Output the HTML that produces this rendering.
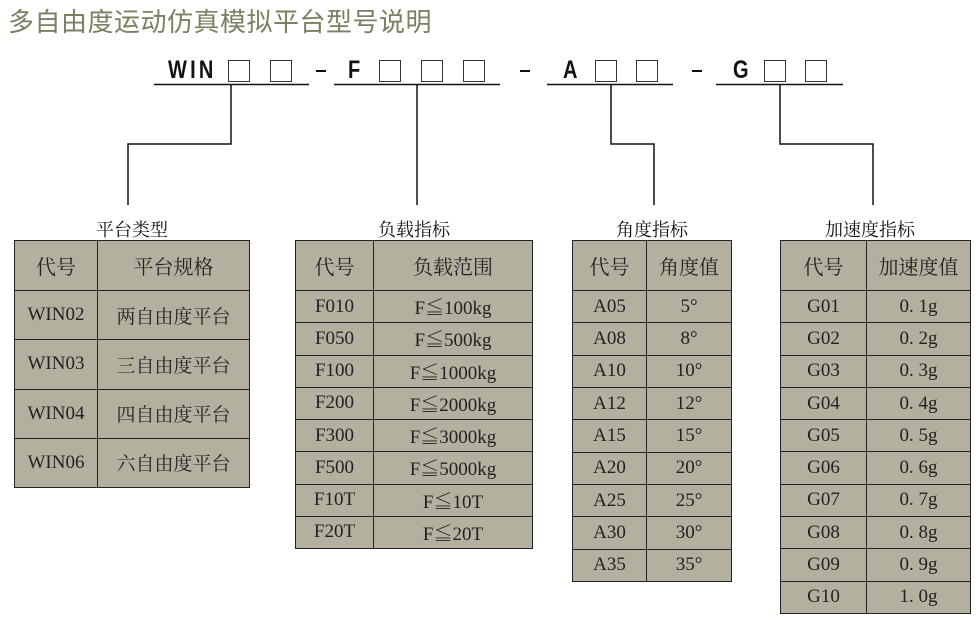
<!DOCTYPE html>
<html><head><meta charset="utf-8"><style>
body{margin:0;width:979px;height:620px;background:#fff;position:relative;overflow:hidden;font-family:"Liberation Serif","Noto Serif CJK SC",serif;}
.t{position:absolute;white-space:nowrap;}
.title{left:8px;top:2px;font-family:"Liberation Sans","Noto Sans CJK SC",sans-serif;font-size:26px;color:#7e7e62;letter-spacing:0.5px;}
.code{font-family:"Liberation Sans","Noto Sans CJK SC",sans-serif;font-size:25px;font-weight:bold;color:#111;transform:scaleX(0.8);transform-origin:left top;top:56px;}
.dash{position:absolute;width:10px;height:2px;background:#111;top:70px;}
.box{position:absolute;width:20px;height:20px;border:1.5px solid #333;top:60px;}
.lbl{font-size:18px;color:#111;top:216px;transform:translateX(-50%);}
table{position:absolute;border-collapse:collapse;background:#b3b09f;}
td{border:1.5px solid #222;text-align:center;padding:0;font-size:19px;color:#222;}
tr.h td{font-size:20px;}
</style></head><body>
<div class="t title">多自由度运动仿真模拟平台型号说明</div>

<div class="t code" style="left:168px;letter-spacing:4px">WIN</div>
<div class="box" style="left:228px"></div><div class="box" style="left:270px"></div>
<div class="dash" style="left:316px"></div>
<div class="t code" style="left:348px">F</div>
<div class="box" style="left:379px"></div><div class="box" style="left:421px"></div><div class="box" style="left:463px"></div>
<div class="dash" style="left:520px"></div>
<div class="t code" style="left:563px">A</div>
<div class="box" style="left:595px"></div><div class="box" style="left:636px"></div>
<div class="dash" style="left:692px"></div>
<div class="t code" style="left:733px">G</div>
<div class="box" style="left:764px"></div><div class="box" style="left:805px"></div>

<svg style="position:absolute;left:0;top:0" width="979" height="620">
<g stroke="#111" stroke-width="1.5" fill="none">
<line x1="154" y1="84.5" x2="309" y2="84.5"/>
<line x1="334" y1="84.5" x2="500" y2="84.5"/>
<line x1="547" y1="84.5" x2="673" y2="84.5"/>
<line x1="716" y1="84.5" x2="843" y2="84.5"/>
<polyline points="231,84 231,144 128,144 128,205"/>
<polyline points="417,84 417,205"/>
<polyline points="611,84 611,144 654,144 654,205"/>
<polyline points="780,84 780,144 873,144 873,205"/>
</g></svg>

<div class="t lbl" style="left:132px">平台类型</div>
<div class="t lbl" style="left:414px">负载指标</div>
<div class="t lbl" style="left:652px">角度指标</div>
<div class="t lbl" style="left:870px">加速度指标</div>

<table style="left:14px;top:240px;width:236px;height:248px">
<colgroup><col style="width:83px"><col></colgroup>
<tr class="h" style="height:50px"><td>代号</td><td>平台规格</td></tr>
<tr><td>WIN02</td><td>两自由度平台</td></tr>
<tr><td>WIN03</td><td>三自由度平台</td></tr>
<tr><td>WIN04</td><td>四自由度平台</td></tr>
<tr><td>WIN06</td><td>六自由度平台</td></tr>
</table>

<table style="left:295px;top:240px;width:238px;height:309px">
<colgroup><col style="width:78px"><col></colgroup>
<tr class="h" style="height:50px"><td>代号</td><td>负载范围</td></tr>
<tr><td>F010</td><td>F≦100kg</td></tr>
<tr><td>F050</td><td>F≦500kg</td></tr>
<tr><td>F100</td><td>F≦1000kg</td></tr>
<tr><td>F200</td><td>F≦2000kg</td></tr>
<tr><td>F300</td><td>F≦3000kg</td></tr>
<tr><td>F500</td><td>F≦5000kg</td></tr>
<tr><td>F10T</td><td>F≦10T</td></tr>
<tr><td>F20T</td><td>F≦20T</td></tr>
</table>

<table style="left:572px;top:240px;width:160px;height:342px">
<colgroup><col style="width:74px"><col></colgroup>
<tr class="h" style="height:50px"><td>代号</td><td>角度值</td></tr>
<tr><td>A05</td><td>5°</td></tr>
<tr><td>A08</td><td>8°</td></tr>
<tr><td>A10</td><td>10°</td></tr>
<tr><td>A12</td><td>12°</td></tr>
<tr><td>A15</td><td>15°</td></tr>
<tr><td>A20</td><td>20°</td></tr>
<tr><td>A25</td><td>25°</td></tr>
<tr><td>A30</td><td>30°</td></tr>
<tr><td>A35</td><td>35°</td></tr>
</table>

<table style="left:780px;top:240px;width:191px;height:374px">
<colgroup><col style="width:86px"><col></colgroup>
<tr class="h" style="height:50px"><td>代号</td><td>加速度值</td></tr>
<tr><td>G01</td><td>0. 1g</td></tr>
<tr><td>G02</td><td>0. 2g</td></tr>
<tr><td>G03</td><td>0. 3g</td></tr>
<tr><td>G04</td><td>0. 4g</td></tr>
<tr><td>G05</td><td>0. 5g</td></tr>
<tr><td>G06</td><td>0. 6g</td></tr>
<tr><td>G07</td><td>0. 7g</td></tr>
<tr><td>G08</td><td>0. 8g</td></tr>
<tr><td>G09</td><td>0. 9g</td></tr>
<tr><td>G10</td><td>1. 0g</td></tr>
</table>
</body></html>
